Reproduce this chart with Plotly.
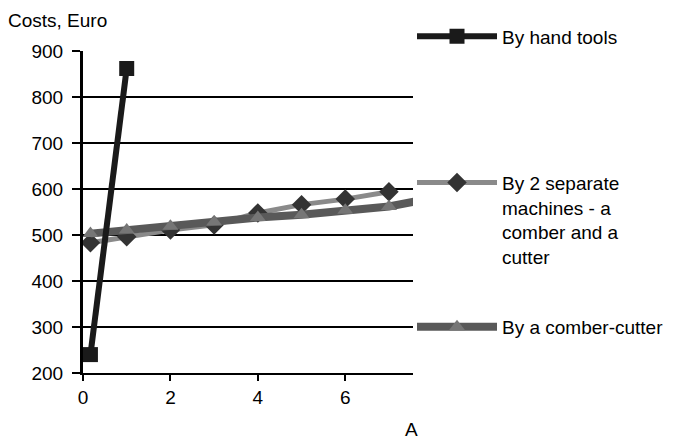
import plotly.graph_objects as go

# Data
x_hand = [0.17, 1]
y_hand = [240, 862]

x_sep = [0.17, 1, 2, 3, 4, 5, 6, 7]
y_sep = [483, 496, 511, 522, 548, 566, 578, 594]

x_cc = [0.17, 1, 2, 3, 4, 5, 6, 7, 8]
y_cc = [503, 511, 519, 528, 538, 544, 554, 562, 580]

name_hand = "By hand tools"
name_sep = "By 2 separate<br>machines - a<br>comber and a<br>cutter"
name_cc = "By a comber-cutter"

y_title = "Costs, Euro"
x_title_visible = "A"

FONT = "Liberation Sans, Arial, sans-serif"
FS = 19

fig = go.Figure()

fig.add_trace(go.Scatter(
    x=x_sep, y=y_sep, name=name_sep, mode="lines+markers",
    line=dict(color="#8a8a8a", width=5),
    marker=dict(symbol="diamond", size=15, color="#333333"),
    legend="legend2", cliponaxis=False, showlegend=True,
))
fig.add_trace(go.Scatter(
    x=x_cc, y=y_cc, name=name_cc, mode="lines+markers",
    line=dict(color="#595959", width=8),
    marker=dict(symbol="triangle-up", size=14, color="#767676"),
    legend="legend3", cliponaxis=True, showlegend=True,
))
fig.add_trace(go.Scatter(
    x=x_hand, y=y_hand, name=name_hand, mode="lines+markers",
    line=dict(color="#1a1a1a", width=6),
    marker=dict(symbol="square", size=15, color="#1a1a1a"),
    legend="legend", cliponaxis=False, showlegend=True,
))

axis_font = dict(family=FONT, size=FS, color="#000000")
leg_font = dict(family=FONT, size=FS, color="#000000")

fig.update_layout(
    width=686, height=439,
    margin=dict(l=75, r=281, t=43, b=74, autoexpand=False),
    paper_bgcolor="white", plot_bgcolor="white",
    font=dict(family=FONT, size=FS, color="#000000"),
    showlegend=True,
    xaxis=dict(
        range=[0, 7.55], dtick=2, tick0=0,
        showgrid=False, zeroline=False,
        showline=True, linecolor="black", linewidth=2,
        ticks="outside", ticklen=6, tickwidth=2, tickcolor="black",
        tickfont=axis_font,
    ),
    yaxis=dict(
        range=[200, 900], dtick=100, tick0=200,
        showgrid=True, gridcolor="black", gridwidth=2,
        zeroline=False,
        showline=True, linecolor="black", linewidth=3,
        ticks="outside", ticklen=8, tickwidth=2, tickcolor="black",
        ticklabelstandoff=5,
        tickfont=axis_font,
    ),
    legend=dict(x=0.997, y=1.045, xanchor="left", yanchor="middle",
                bgcolor="rgba(0,0,0,0)", font=leg_font,
                itemwidth=80, valign="top", visible=True),
    legend2=dict(x=0.997, y=0.65, xanchor="left", yanchor="top",
                 bgcolor="rgba(0,0,0,0)", font=leg_font,
                 itemwidth=80, valign="top", visible=True),
    legend3=dict(x=0.997, y=0.143, xanchor="left", yanchor="middle",
                 bgcolor="rgba(0,0,0,0)", font=leg_font,
                 itemwidth=80, valign="top", visible=True),
    annotations=[
        dict(text=y_title, xref="paper", yref="paper", x=-0.233, y=1.095,
             xanchor="left", yanchor="middle", showarrow=False,
             font=dict(family=FONT, size=FS)),
        dict(text=x_title_visible, xref="paper", yref="paper", x=0.97, y=-0.175,
             xanchor="left", yanchor="middle", showarrow=False,
             font=dict(family=FONT, size=FS)),
    ],
)

fig.write_html("out.html")
